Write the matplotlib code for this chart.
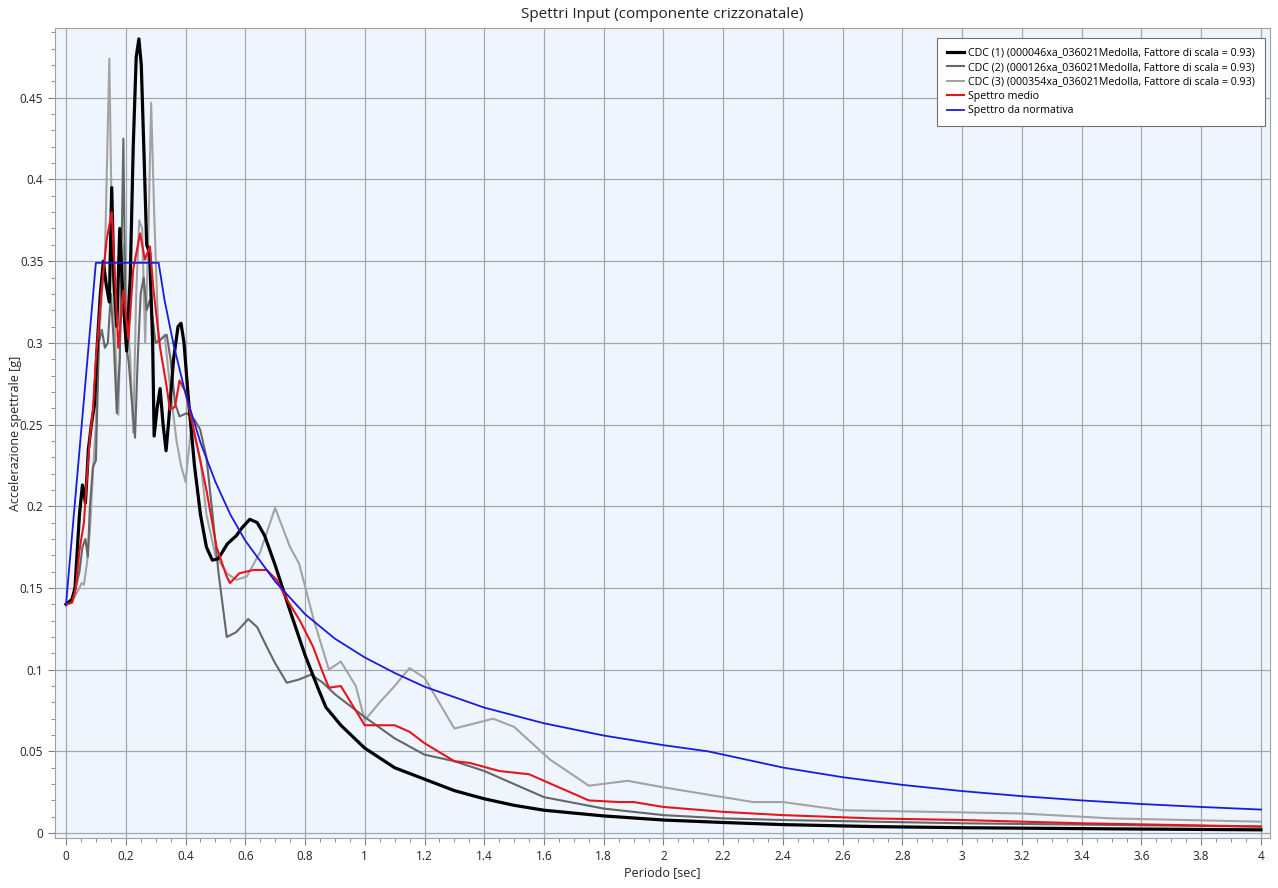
"""Spettri di input (componente orizzontale): tre accelerogrammi, media e spettro di normativa."""

import numpy as np
import matplotlib
matplotlib.use("Agg")
import matplotlib.pyplot as plt
from matplotlib.ticker import MultipleLocator, FuncFormatter

# --- CDC (1), black thick
T1 = [0.00, 0.02, 0.03, 0.045, 0.055, 0.065, 0.075, 0.085, 0.095, 0.105, 0.115, 0.125,
      0.135, 0.145, 0.153, 0.16, 0.17, 0.18, 0.19, 0.203, 0.215, 0.225, 0.235, 0.244,
      0.252, 0.262, 0.27, 0.28, 0.29, 0.295, 0.305, 0.315, 0.325, 0.335, 0.345, 0.36,
      0.375, 0.385, 0.395, 0.41, 0.43, 0.45, 0.47, 0.49, 0.51, 0.54, 0.57, 0.59, 0.615,
      0.64, 0.665, 0.70, 0.75, 0.80, 0.845, 0.87, 0.92, 1.0, 1.1, 1.2, 1.3, 1.4, 1.5,
      1.6, 1.8, 2.0, 2.2, 2.4, 2.7, 3.0, 3.5, 4.0]
A1 = [0.140, 0.143, 0.150, 0.195, 0.213, 0.202, 0.235, 0.250, 0.262, 0.300, 0.330, 0.350,
      0.335, 0.325, 0.395, 0.340, 0.310, 0.370, 0.330, 0.295, 0.340, 0.420, 0.475, 0.486,
      0.470, 0.410, 0.360, 0.355, 0.300, 0.243, 0.260, 0.272, 0.250, 0.234, 0.255, 0.290,
      0.310, 0.312, 0.300, 0.265, 0.225, 0.195, 0.175, 0.167, 0.168, 0.177, 0.182, 0.187,
      0.192, 0.190, 0.182, 0.164, 0.136, 0.109, 0.088, 0.077, 0.066, 0.052, 0.040, 0.033,
      0.026, 0.021, 0.017, 0.014, 0.0105, 0.008, 0.0065, 0.0052, 0.004, 0.0033, 0.0026,
      0.002]

# --- CDC (2), dark grey
T2 = [0.00, 0.02, 0.03, 0.045, 0.055, 0.065, 0.073, 0.08, 0.09, 0.10, 0.11, 0.12, 0.13,
      0.14, 0.15, 0.16, 0.17, 0.18, 0.192, 0.20, 0.21, 0.22, 0.231, 0.24, 0.25, 0.26,
      0.27, 0.28, 0.29, 0.30, 0.315, 0.337, 0.35, 0.365, 0.38, 0.404, 0.43, 0.449, 0.47,
      0.49, 0.51, 0.538, 0.57, 0.61, 0.64, 0.672, 0.70, 0.739, 0.78, 0.82, 0.86, 0.90,
      0.95, 1.0, 1.1, 1.2, 1.3, 1.4, 1.5, 1.6, 1.8, 2.0, 2.2, 2.4, 2.7, 3.0, 3.5, 4.0]
A2 = [0.140, 0.142, 0.148, 0.160, 0.175, 0.180, 0.169, 0.200, 0.224, 0.228, 0.300, 0.308,
      0.297, 0.300, 0.330, 0.300, 0.257, 0.290, 0.425, 0.300, 0.288, 0.265, 0.242, 0.290,
      0.330, 0.340, 0.320, 0.326, 0.315, 0.300, 0.302, 0.305, 0.290, 0.263, 0.255, 0.257,
      0.253, 0.247, 0.230, 0.196, 0.160, 0.120, 0.123, 0.131, 0.126, 0.114, 0.104, 0.092,
      0.094, 0.097, 0.092, 0.085, 0.078, 0.071, 0.058, 0.048, 0.044, 0.038, 0.030, 0.022,
      0.015, 0.011, 0.009, 0.008, 0.007, 0.006, 0.005, 0.004]

# --- CDC (3), light grey
T3 = [0.00, 0.02, 0.03, 0.045, 0.052, 0.06, 0.07, 0.08, 0.09, 0.10, 0.11, 0.12, 0.13,
      0.145, 0.155, 0.165, 0.175, 0.185, 0.195, 0.205, 0.215, 0.225, 0.235, 0.245,
      0.255, 0.265, 0.275, 0.285, 0.295, 0.31, 0.33, 0.35, 0.37, 0.385, 0.40, 0.42,
      0.45, 0.47, 0.50, 0.538, 0.57, 0.605, 0.65, 0.70, 0.75, 0.78, 0.83, 0.88, 0.92,
      0.97, 1.0, 1.05, 1.1, 1.15, 1.2, 1.3, 1.43, 1.5, 1.62, 1.75, 1.88, 2.0, 2.2, 2.3,
      2.4, 2.6, 2.9, 3.2, 3.5, 4.0]
A3 = [0.140, 0.141, 0.145, 0.150, 0.153, 0.152, 0.165, 0.185, 0.220, 0.250, 0.300,
      0.330, 0.350, 0.474, 0.350, 0.300, 0.256, 0.330, 0.360, 0.320, 0.290, 0.245, 0.330,
      0.375, 0.370, 0.300, 0.360, 0.447, 0.380, 0.300, 0.305, 0.270, 0.240, 0.225, 0.215,
      0.250, 0.228, 0.195, 0.170, 0.159, 0.155, 0.157, 0.172, 0.199, 0.175, 0.165, 0.130,
      0.100, 0.105, 0.090, 0.069, 0.080, 0.090, 0.101, 0.095, 0.064, 0.070, 0.065, 0.045,
      0.029, 0.032, 0.028, 0.022, 0.019, 0.019, 0.014, 0.013, 0.012, 0.009, 0.007]

# --- Spettro medio, red
TM = [0.00, 0.02, 0.033, 0.045, 0.06, 0.07, 0.08, 0.09, 0.10, 0.12, 0.136, 0.153, 0.164,
      0.175, 0.192, 0.209, 0.225, 0.248, 0.264, 0.281, 0.292, 0.315, 0.337, 0.348, 0.365,
      0.38, 0.40, 0.43, 0.47, 0.504, 0.538, 0.549, 0.58, 0.627, 0.672, 0.705, 0.739,
      0.783, 0.827, 0.86, 0.88, 0.92, 0.97, 1.0, 1.05, 1.1, 1.15, 1.2, 1.3, 1.35, 1.45,
      1.55, 1.65, 1.75, 1.85, 1.9, 2.0, 2.2, 2.4, 2.7, 3.0, 3.4, 4.0]
AM = [0.140, 0.141, 0.150, 0.173, 0.190, 0.218, 0.242, 0.259, 0.290, 0.334, 0.363, 0.380,
      0.340, 0.297, 0.332, 0.302, 0.345, 0.367, 0.351, 0.359, 0.334, 0.297, 0.273, 0.259,
      0.261, 0.277, 0.270, 0.245, 0.210, 0.175, 0.157, 0.153, 0.159, 0.161, 0.161, 0.155,
      0.143, 0.130, 0.114, 0.098, 0.089, 0.090, 0.075, 0.066, 0.066, 0.066, 0.062, 0.055,
      0.044, 0.043, 0.038, 0.036, 0.028, 0.020, 0.019, 0.019, 0.016, 0.013, 0.011, 0.009,
      0.008, 0.006, 0.004]

# --- Spettro da normativa, blue
TN = [0.00, 0.10, 0.31, 0.33, 0.36, 0.40, 0.45, 0.50, 0.55, 0.60, 0.70, 0.80, 0.90, 1.0,
      1.1, 1.2, 1.4, 1.6, 1.8, 2.0, 2.15, 2.4, 2.6, 2.8, 3.0, 3.2, 3.4, 3.6, 3.8, 4.0]
AN = [0.140, 0.349, 0.349, 0.326, 0.299, 0.269, 0.239, 0.215, 0.195, 0.179, 0.154, 0.134,
      0.119, 0.1075, 0.098, 0.0896, 0.0768, 0.0672, 0.0597, 0.0538, 0.050, 0.0401,
      0.0342, 0.0295, 0.0257, 0.0226, 0.0200, 0.0178, 0.0160, 0.0144]

LABELS = [
    "CDC (1) (000046xa_036021Medolla, Fattore di scala = 0.93)",
    "CDC (2) (000126xa_036021Medolla, Fattore di scala = 0.93)",
    "CDC (3) (000354xa_036021Medolla, Fattore di scala = 0.93)",
    "Spettro medio",
    "Spettro da normativa",
]


def main():
    plt.rcParams["font.family"] = ["Open Sans", "DejaVu Sans"]
    fig = plt.figure(figsize=(12.78, 8.88), dpi=100)
    ax = fig.add_axes([0.043, 0.0563, 0.9507, 0.9122])
    ax.set_facecolor("#eef5fc")

    ax.plot(T1, A1, color="black", lw=2.3, label=LABELS[0], zorder=5)
    ax.plot(T2, A2, color="#666666", lw=1.5, label=LABELS[1], zorder=4)
    ax.plot(T3, A3, color="#a3a3a3", lw=1.5, label=LABELS[2], zorder=3)
    ax.plot(TM, AM, color="#e8141c", lw=1.5, label=LABELS[3], zorder=6)
    ax.plot(TN, AN, color="#1a1ae0", lw=1.3, label=LABELS[4], zorder=7)

    ax.set_xlim(-0.037, 4.03)
    ax.set_ylim(-0.003, 0.4927)
    ax.xaxis.set_major_locator(MultipleLocator(0.2))
    ax.xaxis.set_minor_locator(MultipleLocator(0.05))
    ax.yaxis.set_major_locator(MultipleLocator(0.05))
    ax.yaxis.set_minor_locator(MultipleLocator(0.01))
    fmt = FuncFormatter(lambda v, _: "%g" % round(v, 3))
    ax.xaxis.set_major_formatter(fmt)
    ax.yaxis.set_major_formatter(fmt)
    ax.tick_params(which="both", colors="#808080", labelcolor="#222222", labelsize=8.5)
    ax.tick_params(which="major", length=5)
    ax.tick_params(which="minor", length=3)
    ax.grid(True, which="major", color="#a0a8b0", lw=0.9)
    ax.set_axisbelow(True)
    for s in ax.spines.values():
        s.set_color("#a0a0a0")

    ax.set_xlabel("Periodo [sec]", fontsize=9, color="#222222", labelpad=2)
    ax.set_ylabel("Accelerazione spettrale [g]", fontsize=9, color="#222222")
    ax.yaxis.set_label_coords(-0.027, 0.5)
    ax.set_title("Spettri Input (componente crizzonatale)", fontsize=11, color="#222222", pad=7)

    leg = ax.legend(loc="upper right", fontsize=7.7, frameon=True, fancybox=False,
                    handlelength=1.6, handletextpad=0.4, labelspacing=0.32,
                    borderpad=0.9, borderaxespad=0.0,
                    bbox_to_anchor=(0.9959, 0.9877))
    leg.get_frame().set_edgecolor("#707070")
    leg.get_frame().set_facecolor("white")
    leg.get_frame().set_alpha(1.0)
    leg.get_frame().set_linewidth(0.8)

    fig.savefig("out.png", dpi=100)


if __name__ == "__main__":
    main()
